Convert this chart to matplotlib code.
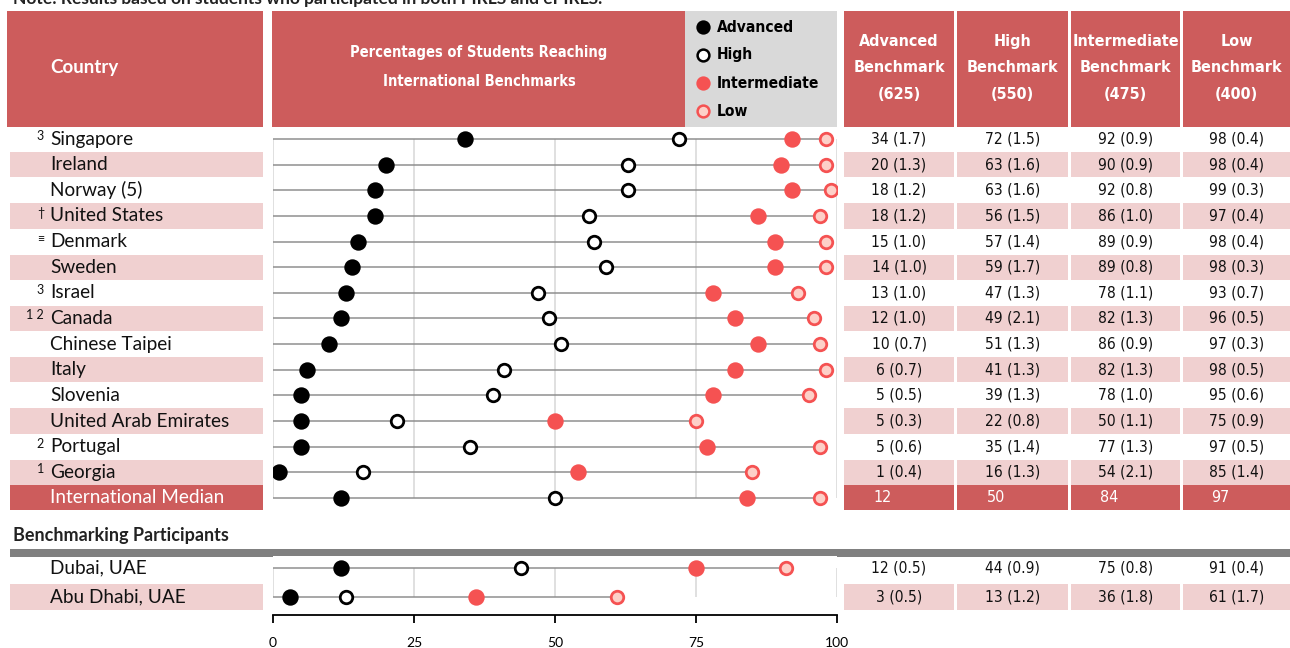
import numpy as np
import matplotlib.pyplot as plt
from matplotlib.patches import Rectangle
from matplotlib.transforms import blended_transform_factory

# datos
countries = ['Singapore', 'Ireland', 'Norway (5)', 'United States', 'Denmark', 'Sweden',
             'Israel', 'Canada', 'Chinese Taipei', 'Italy', 'Slovenia',
             'United Arab Emirates', 'Portugal', 'Georgia', 'International Median']
notes = ['3', '', '', '†', '≡', '', '3', '1 2', '', '', '', '', '2', '1', '']

advanced = [34, 20, 18, 18, 15, 14, 13, 12, 10, 6, 5, 5, 5, 1, 12]
high = [72, 63, 63, 56, 57, 59, 47, 49, 51, 41, 39, 22, 35, 16, 50]
intermediate = [92, 90, 92, 86, 89, 89, 78, 82, 86, 82, 78, 50, 77, 54, 84]
low = [98, 98, 99, 97, 98, 98, 93, 96, 97, 98, 95, 75, 97, 85, 97]

advanced_se = [1.7, 1.3, 1.2, 1.2, 1.0, 1.0, 1.0, 1.0, 0.7, 0.7, 0.5, 0.3, 0.6, 0.4]
high_se = [1.5, 1.6, 1.6, 1.5, 1.4, 1.7, 1.3, 2.1, 1.3, 1.3, 1.3, 0.8, 1.4, 1.3]
intermediate_se = [0.9, 0.9, 0.8, 1.0, 0.9, 0.8, 1.1, 1.3, 0.9, 1.3, 1.0, 1.1, 1.3, 2.1]
low_se = [0.4, 0.4, 0.3, 0.4, 0.4, 0.3, 0.7, 0.5, 0.3, 0.5, 0.6, 0.9, 0.5, 1.4]

bench_names = ['Dubai, UAE', 'Abu Dhabi, UAE']
bench_advanced = [12, 3]
bench_high = [44, 13]
bench_intermediate = [75, 36]
bench_low = [91, 61]
bench_advanced_se = [0.5, 0.5]
bench_high_se = [0.9, 1.2]
bench_intermediate_se = [0.8, 1.8]
bench_low_se = [0.4, 1.7]

col_headers = ['Advanced\nBenchmark\n(625)', 'High\nBenchmark\n(550)',
               'Intermediate\nBenchmark\n(475)', 'Low\nBenchmark\n(400)']
legend_labels = ['Advanced', 'High', 'Intermediate', 'Low']
x_ticks = [0, 25, 50, 75, 100]

RED = '#cd5c5c'
PINK = '#f0d0d0'
GRAY = '#d9d9d9'
DOT_RED = '#f55252'
DOT_PINK = '#fdd0c8'
NARROW = ['Liberation Sans Narrow', 'DejaVu Sans']
BODY = ['Lato', 'DejaVu Sans']

W, H = 1290, 648
fx = lambda x: x / W
fy = lambda y: 1 - y / H

fig = plt.figure(figsize=(12.9, 6.48), dpi=100)


def caja(x0, y0, x1, y1, color, transform=None, zorder=0):
    if transform is None:
        r = Rectangle((fx(x0), fy(y1)), (x1 - x0) / W, (y1 - y0) / H,
                      transform=fig.transFigure, color=color, lw=0, zorder=zorder)
    else:
        r = Rectangle((x0, y0), x1 - x0, y1 - y0, transform=transform,
                      color=color, lw=0, zorder=zorder)
    fig.add_artist(r)


# nota superior (cortada)
fig.text(fx(13), fy(4), 'Note: Results based on students who participated in both PIRLS and ePIRLS.',
         fontsize=12.5, fontweight='bold', family=BODY, va='baseline', color='#222222')

# encabezados
caja(7, 11, 263, 127, RED)
fig.text(fx(50), fy(67), 'Country', color='white', fontsize=13.5, fontweight='bold',
         family=BODY, va='center')
caja(272, 11, 685, 127, RED)
fig.text(fx(479), fy(67), 'Percentages of Students Reaching\nInternational Benchmarks',
         color='white', fontsize=10.5, fontweight='bold', family=NARROW, stretch='condensed',
         ha='center', va='center', linespacing=2.2)
caja(685, 11, 837, 127, GRAY)

col_left = [844, 957, 1071, 1183]
col_right = [954, 1068, 1180, 1290]
for l, r, t in zip(col_left, col_right, col_headers):
    caja(l, 11, r, 127, RED)
    fig.text(fx((l + r) / 2), fy(68), t, color='white', fontsize=11.5, fontweight='bold',
             family=NARROW, stretch='condensed', ha='center', va='center', linespacing=1.95)

# leyenda
leg_styles = [dict(mfc='black', mec='black'), dict(mfc='white', mec='black'),
              dict(mfc=DOT_RED, mec=DOT_RED), dict(mfc=DOT_PINK, mec=DOT_RED)]
for i, (lab, st) in enumerate(zip(legend_labels, leg_styles)):
    y = 27 + 28 * i
    fig.add_artist(plt.Line2D([fx(703)], [fy(y)], marker='o', ms=8.5, mew=1.8,
                              transform=fig.transFigure, **st))
    fig.text(fx(717), fy(y), lab, fontsize=11.2, fontweight='bold', family=NARROW,
             stretch='condensed', va='center', color='black')

# grafico principal
ax = fig.add_axes([fx(273), fy(512), 564 / W, (512 - 127) / H])
ax.set_xlim(0, 100)
ax.set_ylim(14.55, -0.47)
ax.axis('off')
rows = np.arange(len(countries))

ax.vlines(x_ticks, 0, rows[-1], color='#dddddd', lw=1.3, zorder=0)
ax.hlines(rows, 0, low, color='#8f8f8f', lw=1.1, zorder=1)


def puntos(a, xs, ys):
    a.plot(xs[0], ys, 'o', ms=10, mfc='black', mec='black', mew=1.8, zorder=3)
    a.plot(xs[1], ys, 'o', ms=9, mfc='white', mec='black', mew=2, zorder=3)
    a.plot(xs[2], ys, 'o', ms=10, mfc=DOT_RED, mec=DOT_RED, mew=1.8, zorder=3)
    a.plot(xs[3], ys, 'o', ms=9, mfc=DOT_PINK, mec=DOT_RED, mew=2, zorder=3)


puntos(ax, [advanced, high, intermediate, low], rows)

trans = blended_transform_factory(fig.transFigure, ax.transData)
tables = [advanced, high, intermediate, low]
ses = [advanced_se, high_se, intermediate_se, low_se]
for i, name in enumerate(countries):
    median = i == len(countries) - 1
    if median:
        band = RED
    elif i % 2 == 1:
        band = PINK
    else:
        band = None
    if band:
        caja(fx(10), i - 0.49, fx(263), i + 0.49, band, transform=trans)
        for l, r in zip(col_left, col_right):
            caja(fx(l), i - 0.49, fx(r), i + 0.49, band, transform=trans)
    fig.text(fx(50), i, name, transform=trans, va='center', fontsize=13.7,
             family=BODY, color='white' if median else '#111111')
    if notes[i]:
        fig.text(fx(44), i - 0.12, notes[i], transform=trans, va='center', ha='right',
                 fontsize=9, family=BODY, color='#111111')
    for k, (l, r) in enumerate(zip(col_left, col_right)):
        if median:
            fig.text(fx((l + r) / 2 - 16), i, f'{tables[k][i]}', transform=trans,
                     ha='center', va='center', fontsize=11.5, family=NARROW,
                     stretch='condensed', color='white')
        else:
            fig.text(fx((l + r) / 2), i, f'{tables[k][i]} ({ses[k][i]})', transform=trans,
                     ha='center', va='center', fontsize=11.2, family=NARROW,
                     stretch='condensed', color='#111111')

# participantes de referencia
fig.text(fx(13), fy(536), 'Benchmarking Participants', fontsize=13, fontweight='bold',
         family=BODY, va='center', color='#222222')
caja(10, 549, 1290, 557, '#808080')

ax2 = fig.add_axes([fx(273), fy(615), 564 / W, (615 - 556) / H])
ax2.set_xlim(0, 100)
ax2.set_ylim(1.62, -0.41)
brows = np.arange(len(bench_names))
ax2.vlines(x_ticks, 0, brows[-1], color='#dddddd', lw=1.3, zorder=0)
ax2.hlines(brows, 0, bench_low, color='#8f8f8f', lw=1.1, zorder=1)
puntos(ax2, [bench_advanced, bench_high, bench_intermediate, bench_low], brows)
for s in ['top', 'left', 'right']:
    ax2.spines[s].set_visible(False)
ax2.spines['bottom'].set_linewidth(1.3)
ax2.set_yticks([])
ax2.set_xticks(x_ticks)
ax2.tick_params(axis='x', length=6, width=1.3, pad=10, labelsize=10)
for lbl in ax2.get_xticklabels():
    lbl.set_family(BODY)

trans2 = blended_transform_factory(fig.transFigure, ax2.transData)
btables = [bench_advanced, bench_high, bench_intermediate, bench_low]
bses = [bench_advanced_se, bench_high_se, bench_intermediate_se, bench_low_se]
for i, name in enumerate(bench_names):
    if i % 2 == 1:
        caja(fx(10), i - 0.45, fx(263), i + 0.45, PINK, transform=trans2)
        for l, r in zip(col_left, col_right):
            caja(fx(l), i - 0.45, fx(r), i + 0.45, PINK, transform=trans2)
    fig.text(fx(50), i, name, transform=trans2, va='center', fontsize=13.7,
             family=BODY, color='#111111')
    for k, (l, r) in enumerate(zip(col_left, col_right)):
        fig.text(fx((l + r) / 2), i, f'{btables[k][i]} ({bses[k][i]})', transform=trans2,
                 ha='center', va='center', fontsize=11.2, family=NARROW,
                 stretch='condensed', color='#111111')

fig.savefig('out.png', dpi=100)
